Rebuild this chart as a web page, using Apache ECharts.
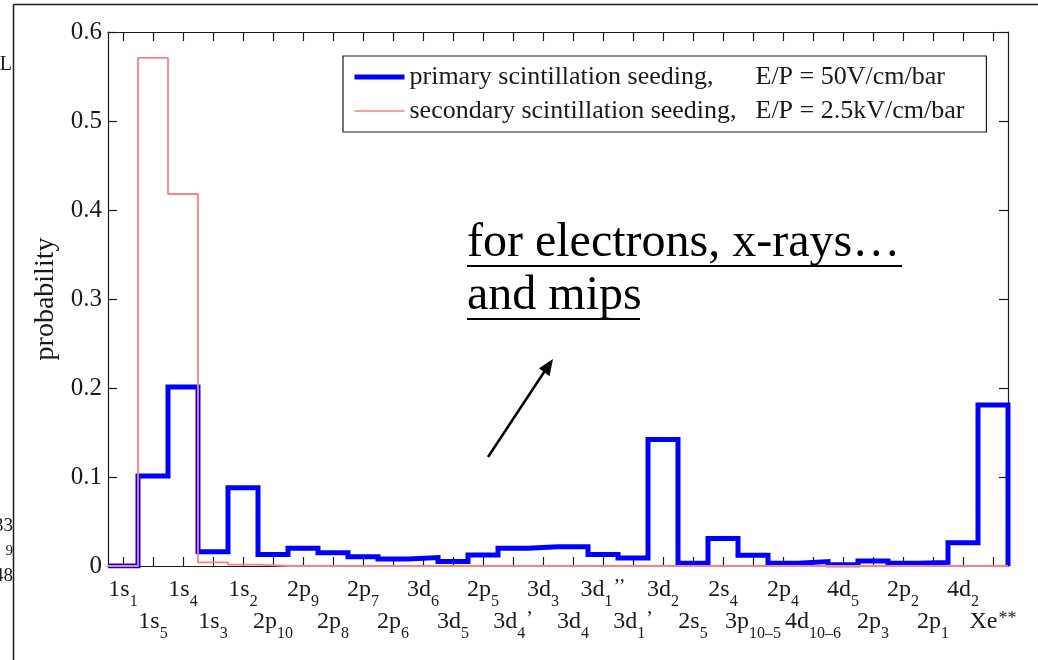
<!DOCTYPE html>
<html>
<head>
<meta charset="utf-8">
<script src="https://cdn.jsdelivr.net/npm/echarts/dist/echarts.min.js"></script>
<style>
  html, body { margin: 0; padding: 0; background: #ffffff; }
  #chart { width: 1038px; height: 660px; }
</style>
</head>
<body>
<div id="chart"></div>
<script>
// ---- data ----
const catMain = ['1s','1s','1s','1s','1s','2p','2p','2p','2p','2p','3d','3d','2p','3d','3d','3d','3d','3d','3d','2s','2s','3p','2p','4d','4d','2p','2p','2p','4d','Xe'];
const catSub  = ['1','5','4','3','2','10','9','8','7','6','6','5','5','4','3','4','1','1','2','5','4','10\u20135','4','10\u20136','5','3','2','1','2',''];
const catSup  = ['','','','','','','','','','','','','','\u2019','','','\u2019\u2019','\u2019','','','','','','','','','','','','**'];
const categories = catMain.map((m, i) => m + catSub[i] + catSup[i]);

const primary   = [0, 0.101, 0.201, 0.016, 0.088, 0.013, 0.020, 0.015, 0.0105, 0.008,
                   0.0095, 0.005, 0.0125, 0.020, 0.0215, 0.0215, 0.013, 0.009, 0.142, 0.003,
                   0.031, 0.012, 0.003, 0.005, 0.0015, 0.0055, 0.003, 0.004, 0.026, 0.181];
const secondary = [0, 0.571, 0.418, 0.004, 0.0015, 0, 0, 0, 0, 0,
                   0, 0, 0, 0, 0, 0, 0, 0, 0, 0,
                   0, 0, 0, 0, 0, 0, 0, 0, 0, 0];

const seriesNames = ['primary scintillation seeding,', 'secondary scintillation seeding,'];
const seriesConds = ['E/P = 50V/cm/bar', 'E/P = 2.5kV/cm/bar'];
const yTicks = [0, 0.1, 0.2, 0.3, 0.4, 0.5, 0.6];
const yLabel = 'probability';
const noteLines = ['for electrons, x-rays\u2026', 'and mips'];

// ---- chart ----
const SERIF = '"Liberation Serif", "DejaVu Serif", serif';
const INK = '#1a1a1a';
const BLUE = '#0000ff';
const RED = '#ff8080';
const chart = echarts.init(document.getElementById('chart'), null, { renderer: 'canvas' });

// step points: value held from the left edge of each category to the next
function stepData(vals) {
  const pts = vals.map((v, i) => [i, v]);
  pts.push([vals.length, 0]);
  return pts;
}

const richLabel = {
  m: { fontFamily: SERIF, fontSize: 24, lineHeight: 26, verticalAlign: 'top', color: INK },
  s: { fontFamily: SERIF, fontSize: 16, lineHeight: 16, padding: [16, 0, 0, 0], verticalAlign: 'top', color: INK },
  p: { fontFamily: SERIF, fontSize: 20, lineHeight: 20, padding: [0, 0, 0, 1], verticalAlign: 'top', color: INK },
  a: { fontFamily: SERIF, fontSize: 18, lineHeight: 18, padding: [0, 0, 0, 1], verticalAlign: 'top', color: INK }
};
function fmtCat(i) {
  let s = '{m|' + catMain[i] + '}';
  if (catSub[i]) s += '{s|' + catSub[i] + '}';
  if (catSup[i]) s += (catSup[i] === '**' ? '{a|' : '{p|') + catSup[i] + '}';
  return s;
}

const names = seriesNames.map((n, i) => n + '|' + seriesConds[i]);

const option = {
  backgroundColor: '#ffffff',
  animation: false,
  grid: { left: 108, right: 30, top: 32, bottom: 94, outerBoundsMode: 'none', show: false },
  legend: {
    orient: 'vertical',
    left: 343, top: 56,
    padding: [8, 22, 8, 9],
    itemGap: 8,
    itemWidth: 50, itemHeight: 14,
    borderColor: INK, borderWidth: 1.2,
    backgroundColor: '#ffffff',
    data: [
      { name: names[0], lineStyle: { width: 5, color: BLUE } },
      { name: names[1], lineStyle: { width: 1.6, color: RED } }
    ],
    itemStyle: { opacity: 0, color: 'rgba(0,0,0,0)', borderWidth: 0 },
    formatter: (n) => { const p = n.split('|'); return '{a|' + p[0] + '}{b|' + p[1] + '}'; },
    textStyle: {
      fontFamily: SERIF, fontSize: 26, lineHeight: 26, color: INK,
      rich: {
        a: { fontFamily: SERIF, fontSize: 26, width: 346, lineHeight: 26, color: INK },
        b: { fontFamily: SERIF, fontSize: 26, lineHeight: 26, color: INK }
      }
    }
  },
  xAxis: [
    { // bottom axis, first row of labels
      type: 'category', position: 'bottom', data: categories, boundaryGap: true,
      axisLine: { show: true, lineStyle: { color: INK, width: 1.2 } },
      axisTick: { show: true, inside: true, alignWithLabel: true, interval: 0, length: 9, lineStyle: { color: INK, width: 1.2 } },
      axisLabel: { interval: 0, margin: 12, formatter: (v, i) => (i % 2 === 0 ? fmtCat(i) : ''), rich: richLabel },
      splitLine: { show: false }
    },
    { // bottom axis, second row of labels
      type: 'category', position: 'bottom', data: categories, boundaryGap: true,
      axisLine: { show: false }, axisTick: { show: false },
      axisLabel: { interval: 0, margin: 44, formatter: (v, i) => (i % 2 === 1 ? fmtCat(i) : ''), rich: richLabel },
      splitLine: { show: false }
    },
    { // top frame with ticks
      type: 'category', position: 'top', data: categories, boundaryGap: true,
      axisLine: { show: true, lineStyle: { color: INK, width: 1.2 } },
      axisTick: { show: true, inside: true, alignWithLabel: true, interval: 0, length: 9, lineStyle: { color: INK, width: 1.2 } },
      axisLabel: { show: false }, splitLine: { show: false }
    },
    { // value scale used by the step lines (category edges)
      type: 'value', position: 'bottom', min: 0, max: categories.length, show: false
    }
  ],
  yAxis: [
    {
      type: 'value', position: 'left', min: yTicks[0], max: yTicks[yTicks.length - 1], interval: 0.1,
      name: yLabel, nameLocation: 'middle', nameGap: 40, nameRotate: 90,
      nameTextStyle: { fontFamily: SERIF, fontSize: 28, color: INK },
      axisLine: { show: true, lineStyle: { color: INK, width: 1.2 } },
      axisTick: { show: true, inside: true, length: 9, lineStyle: { color: INK, width: 1.2 } },
      axisLabel: { margin: 6, fontFamily: SERIF, fontSize: 25, color: INK,
                   formatter: (v) => String(Math.round(v * 10) / 10) },
      splitLine: { show: false }
    },
    {
      type: 'value', position: 'right', min: yTicks[0], max: yTicks[yTicks.length - 1], interval: 0.1,
      axisLine: { show: true, lineStyle: { color: INK, width: 1.2 } },
      axisTick: { show: true, inside: true, length: 9, lineStyle: { color: INK, width: 1.2 } },
      axisLabel: { show: false }, splitLine: { show: false }
    }
  ],
  series: [
    {
      name: names[0], type: 'line', xAxisIndex: 3, yAxisIndex: 0, step: 'end',
      data: stepData(primary), symbol: 'none', clip: true,
      lineStyle: { color: BLUE, width: 5, join: 'miter' }, itemStyle: { color: BLUE }, z: 3
    },
    {
      name: names[1], type: 'line', xAxisIndex: 3, yAxisIndex: 0, step: 'end',
      data: stepData(secondary), symbol: 'none', clip: false,
      lineStyle: { color: RED, width: 1.8 }, itemStyle: { color: RED }, z: 4
    }
  ],
  graphic: [
    // page frame edges
    { type: 'line', shape: { x1: 13.5, y1: 4.5, x2: 13.5, y2: 660 }, style: { stroke: INK, lineWidth: 1.5 }, silent: true },
    { type: 'line', shape: { x1: 13.5, y1: 4.5, x2: 1038, y2: 4.5 }, style: { stroke: INK, lineWidth: 1.5 }, silent: true },
    // cut-off fragments of underlying text at the left edge
    { type: 'text', x: 12, y: 65, style: { text: 'L', font: '20px ' + SERIF, fill: INK, align: 'right', verticalAlign: 'middle' }, silent: true },
    { type: 'text', x: 13, y: 526, style: { text: '33', font: '19px ' + SERIF, fill: INK, align: 'right', verticalAlign: 'middle' }, silent: true },
    { type: 'text', x: 13, y: 551, style: { text: '9', font: '15px ' + SERIF, fill: INK, align: 'right', verticalAlign: 'middle' }, silent: true },
    { type: 'text', x: 13, y: 576, style: { text: '48', font: '19px ' + SERIF, fill: INK, align: 'right', verticalAlign: 'middle' }, silent: true },
    // annotation
    { type: 'text', x: 467, y: 243, style: { text: noteLines[0], font: '48px ' + SERIF, fill: '#000', align: 'left', verticalAlign: 'middle' }, silent: true },
    { type: 'text', x: 467, y: 296, style: { text: noteLines[1], font: '48px ' + SERIF, fill: '#000', align: 'left', verticalAlign: 'middle' }, silent: true },
    { type: 'line', shape: { x1: 467, y1: 266, x2: 902, y2: 266 }, style: { stroke: '#000', lineWidth: 2 }, silent: true },
    { type: 'line', shape: { x1: 467, y1: 319, x2: 640, y2: 319 }, style: { stroke: '#000', lineWidth: 2 }, silent: true },
    // arrow
    { type: 'line', shape: { x1: 488, y1: 457, x2: 544.3, y2: 371.7 }, style: { stroke: '#000', lineWidth: 2.5 }, silent: true },
    { type: 'polygon', shape: { points: [[553, 359], [549.5, 376.2], [539, 368.3]] }, style: { fill: '#000' }, silent: true }
  ]
};
chart.setOption(option);
</script>
</body>
</html>
